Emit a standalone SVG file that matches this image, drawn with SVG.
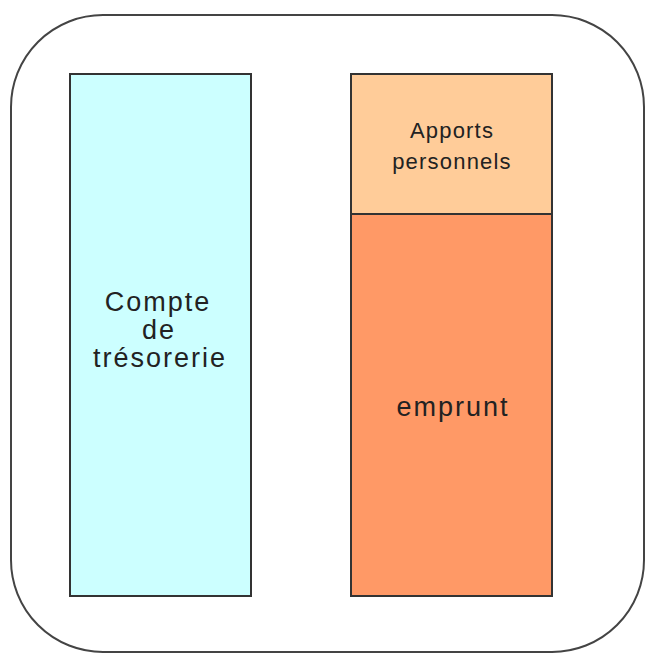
<svg xmlns="http://www.w3.org/2000/svg" width="645" height="653" viewBox="0 0 645 653">
<style>
.box{stroke:#333;stroke-width:2}
.t{font-family:"Liberation Sans",Arial,sans-serif;fill:#222;text-anchor:middle}
.big{font-size:27px;letter-spacing:2px}
.small{font-size:22px;letter-spacing:1.2px}
</style>
<rect width="645" height="653" fill="#fff"/>
<rect x="11" y="15" width="633" height="637" rx="92" ry="92" fill="none" stroke="#444" stroke-width="2"/>
<g id="tresorerie">
<rect class="box" x="70" y="74" width="181" height="522" fill="#ccffff"/>
<text class="t big" x="158" y="311">Compte</text>
<text class="t big" x="159" y="339">de</text>
<text class="t big" x="160" y="367">trésorerie</text>
</g>
<g id="apports">
<rect class="box" x="351" y="74" width="201" height="140" fill="#ffcc99"/>
<text class="t small" x="452" y="138">Apports</text>
<text class="t small" x="452" y="169">personnels</text>
</g>
<g id="emprunt">
<rect class="box" x="351" y="214" width="201" height="382" fill="#ff9966"/>
<text class="t big" x="453" y="416">emprunt</text>
</g>
<g id="connectors"/>
</svg>
